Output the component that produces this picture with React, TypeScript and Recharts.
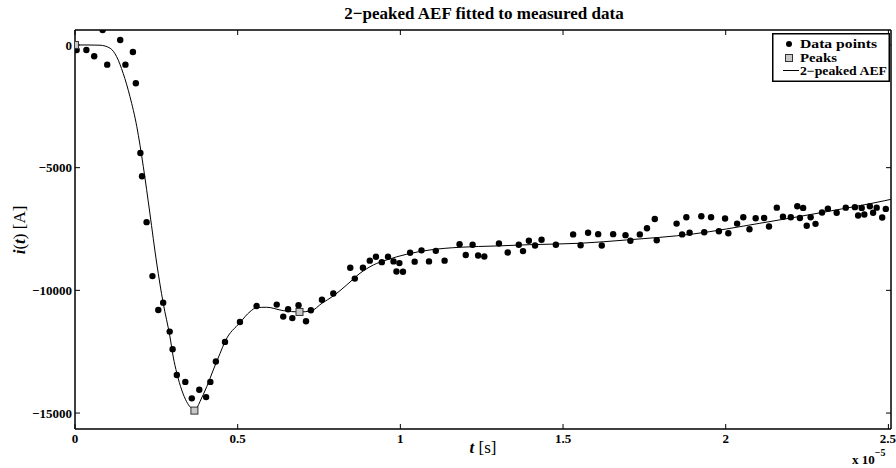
import React from 'react';
import { ComposedChart, Line, Scatter, XAxis, YAxis, Legend } from 'recharts';

// time in units of 1e-5 s, current in A
const pointT = [
  0.005, 0.035, 0.059, 0.085, 0.099, 0.139, 0.155, 0.178, 0.187, 0.201,
  0.206, 0.220, 0.238, 0.256, 0.271, 0.291, 0.300, 0.313, 0.339, 0.359,
  0.382, 0.403, 0.416, 0.433, 0.461, 0.507, 0.558, 0.620, 0.640, 0.655,
  0.668, 0.687, 0.710, 0.725, 0.759, 0.794, 0.846, 0.860, 0.885, 0.906,
  0.925, 0.943, 0.962, 0.979, 0.988, 0.997, 1.008, 1.030, 1.044, 1.065,
  1.088, 1.109, 1.136, 1.182, 1.201, 1.222, 1.239, 1.258, 1.303, 1.330,
  1.364, 1.377, 1.395, 1.414, 1.434, 1.478, 1.531, 1.554, 1.577, 1.608,
  1.619, 1.654, 1.692, 1.707, 1.736, 1.758, 1.782, 1.788, 1.849, 1.866,
  1.879, 1.889, 1.925, 1.934, 1.955, 1.979, 1.998, 2.008, 2.035, 2.054,
  2.073, 2.092, 2.118, 2.133, 2.157, 2.176, 2.200, 2.220, 2.228, 2.238,
  2.249, 2.261, 2.276, 2.296, 2.314, 2.341, 2.369, 2.397, 2.407, 2.418,
  2.426, 2.443, 2.453, 2.464, 2.481, 2.492,
];
const pointI = [
  -204, -204, -460, 611, -803, 204, -803, -285, -1560, -4400,
  -5350, -7220, -9420, -10800, -10500, -11680, -12400, -13450, -13730, -14400,
  -14050, -14350, -13730, -12900, -12100, -11290, -10640, -10580, -11070, -10770,
  -11130, -10610, -11260, -10810, -10380, -10130, -9080, -9520, -9080, -8790,
  -8630, -8850, -8630, -8820, -9230, -8890, -9240, -8470, -8830, -8370,
  -8820, -8390, -8790, -8120, -8560, -8140, -8580, -8620, -8090, -8460,
  -8140, -8400, -7980, -8170, -7940, -8140, -7720, -8160, -7650, -7710,
  -8170, -7710, -7750, -7980, -7720, -7470, -7090, -7960, -7280, -7720,
  -7020, -7650, -6980, -7630, -7020, -7590, -7070, -7670, -7280, -7020,
  -7510, -7060, -7050, -7400, -6630, -7000, -7020, -6570, -7050, -6640,
  -7370, -7020, -7290, -6830, -6670, -6840, -6630, -6610, -6950, -6640,
  -6910, -6570, -6840, -6630, -7030, -6680,
];

const fitT = [
  0, 0.04, 0.077, 0.108, 0.128, 0.148, 0.169, 0.190, 0.210, 0.230,
  0.251, 0.271, 0.292, 0.302, 0.313, 0.328, 0.343, 0.355, 0.367, 0.376,
  0.384, 0.405, 0.425, 0.446, 0.461, 0.507, 0.538, 0.558, 0.589, 0.640,
  0.690, 0.725, 0.759, 0.794, 0.835, 0.876, 0.917, 0.958, 1.019, 1.091,
  1.183, 1.296, 1.398, 1.552, 1.695, 1.900, 2.105, 2.310, 2.489, 2.508,
];
const fitI = [
  0, 0, -10, -134, -477, -1153, -2107, -3329, -4959, -6846,
  -8884, -10514, -11900, -12714, -13378, -14059, -14536, -14770, -14900, -14760,
  -14536, -13924, -13244, -12563, -12090, -11316, -10868, -10705, -10689, -10827,
  -10880, -10840, -10526, -10228, -9780, -9303, -8965, -8760, -8529, -8354,
  -8244, -8191, -8138, -8081, -7946, -7702, -7266, -6793, -6345, -6290,
];

const peakT = [0, 0.367, 0.69];
const peakI = [0, -14900, -10880];

const xTicks = [0, 0.5, 1, 1.5, 2, 2.5];
const yTicks = [-15000, -10000, -5000, 0];

const xDomain: [number, number] = [0, 2.508];
const yDomain: [number, number] = [-15650, 610];

const points = pointT.map((t, i) => ({ t, v: pointI[i] }));
const fit = fitT.map((t, i) => ({ t, v: fitI[i] }));
const peaks = peakT.map((t, i) => ({ t, v: peakI[i] }));

const FONT = '"Liberation Serif", "DejaVu Serif", serif';
const tickStyle = { fill: '#000', fontSize: 13, fontWeight: 700, fontFamily: FONT };
const frame = { stroke: '#000', strokeWidth: 1.5 };

const fmtY = (v: number) => (v === 0 ? '0' : '\u2212' + Math.abs(v));
const blank = () => '';

const Dot = (props: any) => <circle cx={props.cx} cy={props.cy} r={3.2} fill="#000" />;
const Square = (props: any) => (
  <rect x={props.cx - 3.5} y={props.cy - 3.5} width={7} height={7} fill="#c8c8c8" stroke="#333" strokeWidth={1} />
);

const LegendBox = () => (
  <svg width={118} height={49} style={{ display: 'block' }}>
    <rect x={0.75} y={0.75} width={116.5} height={47.5} fill="#fff" stroke="#000" strokeWidth={1.5} />
    <g fontFamily={FONT} fontWeight={700} fontSize={12} fill="#000">
      <circle cx={17} cy={11} r={3} fill="#000" />
      <text x={28} y={15} textLength={77} lengthAdjust="spacingAndGlyphs">Data points</text>
      <rect x={13.5} y={21.5} width={7} height={7} fill="#c8c8c8" stroke="#333" />
      <text x={28} y={28.5} textLength={37} lengthAdjust="spacingAndGlyphs">Peaks</text>
      <line x1={11} x2={27} y1={37.5} y2={37.5} stroke="#000" />
      <text x={28} y={41.5} textLength={87} lengthAdjust="spacingAndGlyphs">2{'\u2212'}peaked AEF</text>
    </g>
  </svg>
);

const TitleLabel = () => (
  <text x={484} y={19} textAnchor="middle" fontFamily={FONT} fontWeight={700} fontSize={17} fill="#000">
    2{'\u2212'}peaked AEF fitted to measured data
  </text>
);

const XLabel = () => (
  <g fontFamily={FONT} fill="#000">
    <text x={483} y={453} textAnchor="middle" fontSize={17}>
      <tspan fontStyle="italic" fontWeight={700}>t</tspan>
      <tspan> [s]</tspan>
    </text>
    <text x={852} y={464} fontSize={13} fontWeight={700}>
      x 10
      <tspan fontSize={10} dy={-8}>{'\u2212'}5</tspan>
    </text>
  </g>
);

const YLabel = () => (
  <text x={25} y={230} transform="rotate(-90, 25, 230)" textAnchor="middle" fontFamily={FONT} fontSize={17} fill="#000">
    <tspan fontStyle="italic" fontWeight={700}>i</tspan>
    <tspan>(</tspan>
    <tspan fontStyle="italic" fontWeight={700}>t</tspan>
    <tspan>) [A]</tspan>
  </text>
);

export default function App() {
  return (
    <div style={{ position: 'absolute', left: 0, top: 0, width: 896, height: 468, background: '#fff' }}>
      <ComposedChart width={896} height={468} margin={{ top: 25, right: 0, bottom: 0, left: 0 }}>
        <XAxis
          dataKey="t"
          type="number"
          domain={xDomain}
          allowDataOverflow
          ticks={xTicks}
          tickFormatter={(v: number) => String(v)}
          height={39}
          tickSize={-5}
          tickMargin={10}
          stroke="#000"
          axisLine={frame}
          tick={tickStyle}
          label={XLabel}
        />
        <XAxis
          xAxisId="top"
          dataKey="t"
          orientation="top"
          type="number"
          domain={xDomain}
          allowDataOverflow
          ticks={xTicks}
          height={5}
          tickSize={-5}
          tickFormatter={blank}
          stroke="#000"
          axisLine={frame}
          label={TitleLabel}
        />
        <YAxis
          dataKey="v"
          type="number"
          domain={yDomain}
          allowDataOverflow
          ticks={yTicks}
          tickFormatter={fmtY}
          width={75}
          tickSize={-5}
          tickMargin={8}
          stroke="#000"
          axisLine={frame}
          tick={tickStyle}
          label={YLabel}
        />
        <YAxis
          yAxisId="right"
          dataKey="v"
          orientation="right"
          type="number"
          domain={yDomain}
          allowDataOverflow
          ticks={yTicks}
          width={5}
          tickSize={-5}
          tickFormatter={blank}
          stroke="#000"
          axisLine={frame}
        />
        <Line
          data={fit}
          xAxisId="top"
          yAxisId="right"
          dataKey="v"
          type="monotone"
          stroke="#000"
          strokeWidth={1}
          dot={false}
          isAnimationActive={false}
          legendType="none"
        />
        <Scatter data={points} dataKey="v" shape={Dot} isAnimationActive={false} />
        <Scatter data={peaks} dataKey="v" shape={Square} isAnimationActive={false} />
        <Legend
          layout="horizontal"
          verticalAlign="middle"
          align="center"
          content={LegendBox}
          wrapperStyle={{ top: 33, left: 772, width: 118, height: 49 }}
        />
      </ComposedChart>
    </div>
  );
}
